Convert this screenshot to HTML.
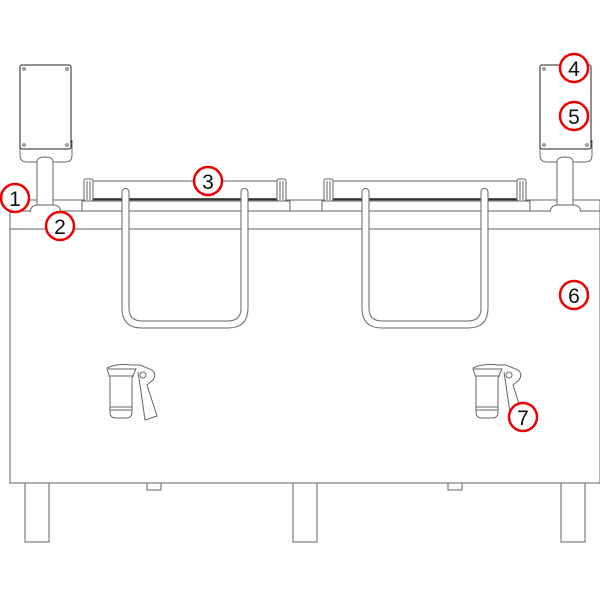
<!DOCTYPE html>
<html><head><meta charset="utf-8"><style>body{margin:0;background:#fff}svg{display:block}</style></head><body>
<svg width="600" height="600" viewBox="0 0 600 600" xmlns="http://www.w3.org/2000/svg">
<g fill="none" stroke="#666" stroke-width="1">
<!-- body -->
<rect x="10" y="211" width="590" height="272" fill="#fff"/>
<line x1="10" y1="229" x2="600" y2="229"/>
<rect x="10" y="200" width="590" height="11"/>
<!-- legs -->
<rect x="25" y="483" width="24" height="59"/>
<rect x="293" y="483" width="24" height="59"/>
<rect x="561" y="483" width="24" height="59"/>
<rect x="147" y="483" width="14" height="7"/>
<rect x="448" y="483" width="14" height="7"/>
<!-- lids -->
<g id="lid">
<rect x="82" y="201" width="208" height="10" fill="#fff"/>
<rect x="88" y="181" width="196" height="19" fill="#fff"/>
<line x1="88" y1="199" x2="284" y2="199" stroke="#222" stroke-width="1.5"/>
<rect x="84" y="179" width="9" height="22" rx="2" fill="#fff"/>
<line x1="87" y1="181" x2="87" y2="200"/><line x1="90" y1="181" x2="90" y2="200"/>
<rect x="277" y="179" width="9" height="22" rx="2" fill="#fff"/>
<line x1="280" y1="181" x2="280" y2="200"/><line x1="283" y1="181" x2="283" y2="200"/>
<path d="M122 192 V308 Q122 328 142 328 H228 Q248 328 248 308 V192 A3.5 3.5 0 0 0 241 192 V308 Q241 321 228 321 H142 Q129 321 129 308 V192 A3.5 3.5 0 0 0 122 192 Z" fill="#fff"/>
</g>
<use href="#lid" x="240"/>
<!-- control boxes -->
<g id="ctl">
<path d="M20 140 V155 Q20 162 27 162 H65 Q72 162 72 155 V140" />
<rect x="20" y="65" width="51" height="84" rx="2" stroke="#222" fill="#fff"/>
<circle cx="24" cy="69" r="1.3"/><circle cx="67" cy="69" r="1.3"/><circle cx="24" cy="145" r="1.3"/><circle cx="67" cy="145" r="1.3"/>
<path d="M37 206 V162 Q37 157 45 157 Q53 157 53 162 V206" fill="#fff"/>
<path d="M30 212 Q31 205 38 205 H53 Q60 205 61 212" fill="#fff"/>
</g>
<use href="#ctl" x="520"/>
<!-- faucets -->
<g id="fct">
<path d="M107 368 Q118 363 132 365 L140 365 L152 370 Q157 374 153 380 L147 385 L157 416 L145 420 L140 385 L138 372" fill="#fff"/>
<path d="M107 369 L110 378 L110 412 Q110 418 116 418 L126 418 Q132 418 132 412 L132 378 L136 369 Z" fill="#fff"/>
<line x1="109" y1="376" x2="134" y2="376"/>
<line x1="110" y1="407" x2="132" y2="407"/><line x1="110" y1="410" x2="132" y2="410"/>
<circle cx="143" cy="375" r="3"/>
</g>
<use href="#fct" x="366"/>
</g>
<g fill="#fff" stroke="#e00" stroke-width="2.5">
<circle cx="15" cy="198" r="14"/><circle cx="60" cy="226" r="14"/><circle cx="208" cy="181" r="14"/>
<circle cx="574" cy="68" r="14"/><circle cx="574" cy="116" r="14"/><circle cx="574" cy="295" r="14"/><circle cx="523" cy="417" r="14"/>
</g>
<g font-family="Liberation Sans, sans-serif" font-size="21" text-anchor="middle" fill="#111">
<text x="15" y="206">1</text><text x="60" y="234">2</text><text x="208" y="189">3</text>
<text x="574" y="76">4</text><text x="574" y="124">5</text><text x="574" y="303">6</text><text x="523" y="425">7</text>
</g>
</svg>
</body></html>
